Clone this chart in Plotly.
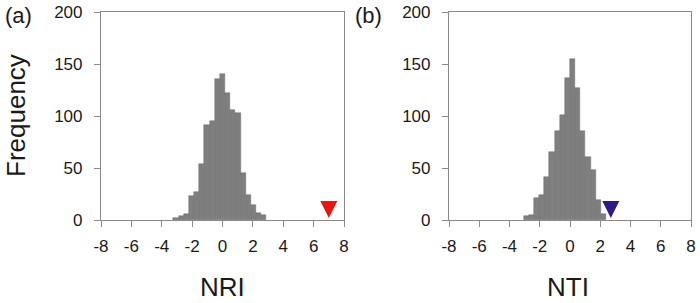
import plotly.graph_objects as go

# ---- data ----
bin_width = 0.34
nri_bin_index = list(range(-9, 9))
nri_counts = [2, 4, 6, 23, 27, 54, 91, 95, 136, 140, 122, 106, 103, 45, 24, 14, 7, 5]
nti_bin_index = list(range(-9, 7))
nti_counts = [4, 5, 21, 24, 41, 65, 86, 101, 137, 155, 127, 86, 61, 48, 19, 6]
observed_nri = 7.0
observed_nti = 2.7
marker_y = 2
x_ticks = [-8, -6, -4, -2, 0, 2, 4, 6, 8]
y_ticks = [0, 50, 100, 150, 200]

nri_x = [k * bin_width for k in nri_bin_index]
nti_x = [(k + 0.5) * bin_width for k in nti_bin_index]

W, H = 700, 303
FONT = "Liberation Sans, Arial, sans-serif"
AXC = "#8a8a8a"

fig = go.Figure()
bar_style = dict(marker=dict(color="#7f7f7f", line=dict(color="#6e6e6e", width=0.5)),
                 width=bin_width, showlegend=False, hoverinfo="x+y")
fig.add_trace(go.Bar(x=nri_x, y=nri_counts, xaxis="x", yaxis="y", **bar_style))
fig.add_trace(go.Bar(x=nti_x, y=nti_counts, xaxis="x2", yaxis="y2", **bar_style))
fig.add_trace(go.Scatter(x=[observed_nri], y=[marker_y], mode="markers", xaxis="x", yaxis="y",
                         marker=dict(symbol="arrow-down", size=17, color="#e8160c", line=dict(width=0)),
                         showlegend=False, cliponaxis=False))
fig.add_trace(go.Scatter(x=[observed_nti], y=[marker_y], mode="markers", xaxis="x2", yaxis="y2",
                         marker=dict(symbol="arrow-down", size=17, color="#2f1a88", line=dict(width=0)),
                         showlegend=False, cliponaxis=False))

def xax(x0, x1, anchor):
    return dict(domain=[x0 / W, x1 / W], range=[-8, 8], anchor=anchor, automargin=False,
                tickmode="array", tickvals=x_ticks, ticktext=[str(v) for v in x_ticks],
                ticks="outside", ticklen=6, tickcolor=AXC, tickwidth=1,
                showline=True, linecolor=AXC, linewidth=1.2, mirror=True,
                showgrid=False, zeroline=False,
                tickfont=dict(family=FONT, size=17, color="#1a1a1a"), ticklabelstandoff=4)

def yax(anchor):
    return dict(domain=[(H - 220) / H, (H - 12) / H], range=[0, 200], anchor=anchor, automargin=False,
                tickmode="array", tickvals=y_ticks, ticktext=[str(v) for v in y_ticks],
                ticks="outside", ticklen=6, tickcolor=AXC, tickwidth=1,
                showline=True, linecolor=AXC, linewidth=1.2, mirror=True,
                showgrid=False, zeroline=False,
                tickfont=dict(family=FONT, size=17, color="#1a1a1a"), ticklabelstandoff=8)

def ann(text, px, py, size, angle=0):
    return dict(text=text, x=px / W, y=1 - py / H, xref="paper", yref="paper",
                xanchor="center", yanchor="middle", textangle=angle,
                showarrow=False, font=dict(size=size, family=FONT))

fig.update_layout(
    template="none",
    width=W, height=H, margin=dict(l=0, r=0, t=0, b=0, pad=0),
    paper_bgcolor="white", plot_bgcolor="white", bargap=0,
    xaxis=xax(101, 344, "y"), yaxis=yax("x"),
    xaxis2=xax(449, 691, "y2"), yaxis2=yax("x2"),
    font=dict(family=FONT, color="#1a1a1a"),
    annotations=[
        ann("Frequency", 16, 116, 26, -90),
        ann("NRI", 222.5, 287, 26),
        ann("NTI", 568, 287, 26),
        ann("(a)", 18, 16, 22),
        ann("(b)", 368, 16, 22),
    ],
)

fig.write_html("out.html", config={"displayModeBar": False},
               post_script="document.body.style.margin='0';document.body.style.overflow='hidden';")
